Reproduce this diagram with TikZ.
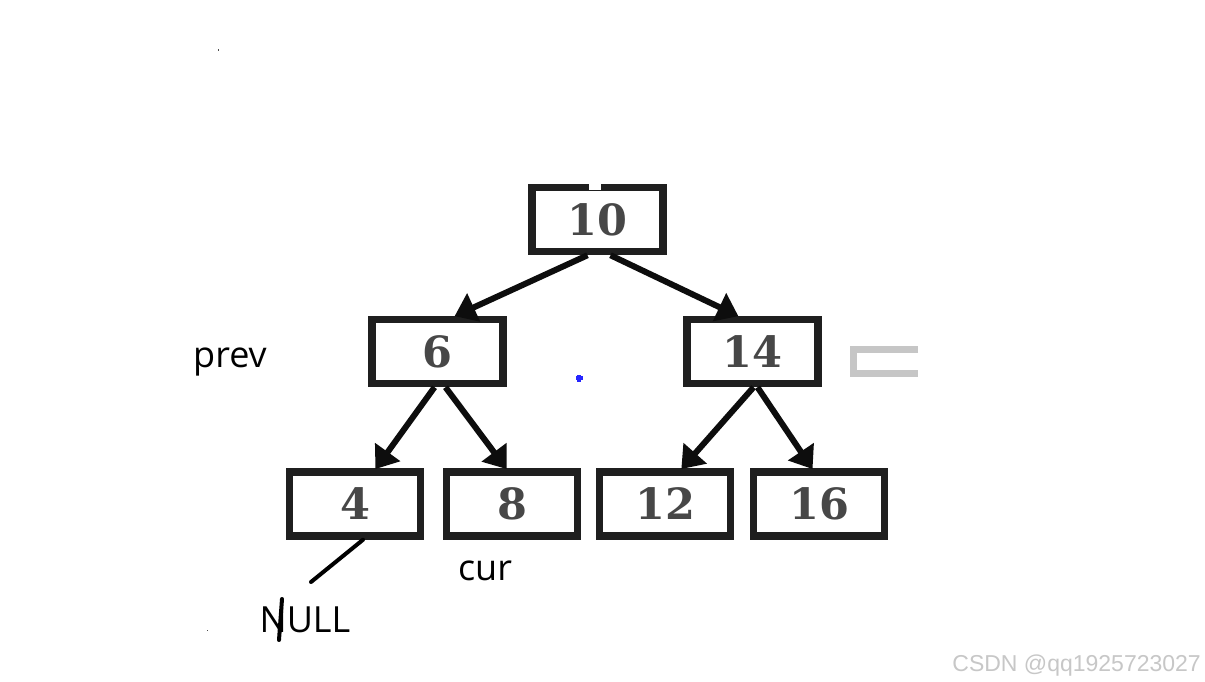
\documentclass[tikz,border=0pt]{standalone}
\usepackage{fontspec}
\setmainfont{Open Sans}
\newfontfamily\digitfont{DejaVu Serif}
\newfontfamily\wmfont{Liberation Sans}
\usetikzlibrary{arrows.meta}
\tikzset{
  treebox/.style={draw=black!88, line width=7.5pt, fill=white, minimum width=131pt, minimum height=64pt, inner sep=0pt,
    font=\digitfont\bfseries\fontsize{43}{43}\selectfont, text=black!72},
  arr/.style={line width=6pt, black!95, -{Triangle[width=30pt,length=21pt]}, shorten >=-1pt},
  lbl/.style={font=\fontsize{36}{36}\selectfont, anchor=base, inner sep=0pt},
  pen/.style={line width=4pt, line cap=round, black}
}
\begin{document}
\begin{tikzpicture}[x=1pt,y=-1pt]
\useasboundingbox (0,0) rectangle (1205,682);
\fill[white] (0,0) rectangle (1205,682);
% nodes
\node[treebox] (n10) at (597.5,219.5) {10};
\node[treebox] (n6) at (437.5,351.5) {6};
\node[treebox] (n14) at (752.5,351.5) {14};
\node[treebox] (n4) at (355,504) {4};
\node[treebox] (n8) at (512,504) {8};
\node[treebox] (n12) at (665,504) {12};
\node[treebox] (n16) at (819,504) {16};
% white notch on the top of the root box
\fill[white] (589,182) rectangle (601,190);
% connectors
\draw[arr] ([xshift=-10pt]n10.south) -- ([xshift=18pt]n6.north);
\draw[arr] ([xshift=13pt]n10.south) -- ([xshift=-15pt]n14.north);
\draw[arr] ([xshift=-3pt]n6.south) -- ([xshift=21pt]n4.north);
\draw[arr] ([xshift=8pt]n6.south) -- ([xshift=-6pt]n8.north);
\draw[arr] ([xshift=1pt]n14.south) -- ([xshift=17pt]n12.north);
\draw[arr] ([xshift=5pt]n14.south) -- ([xshift=-7pt]n16.north);
% labels
\node[lbl] (prev) at (230,367) {prev};
\node[lbl] (cur) at (485,580) {cur};
\node[lbl] (null) at (305,632) {NULL};
% hand-drawn strokes
\coordinate (nullend) at (311,582);
\draw[pen] ([xshift=8pt]n4.south) -- (nullend);
\coordinate (sa) at (282,599);
\coordinate (sb) at (279,640);
\draw[pen] (sa) -- (sb);
% gray partial box on the right
\draw[gray!45, line width=7pt] (918,349) -- (853,349) -- (853,373) -- (918,373);
% small dots
\fill[blue!85] (575.5,376) rectangle (582.5,380);
\fill[blue!85] (577,374.5) rectangle (581,381.5);
\fill[black!70] (217.5,49.5) rectangle (219,51);
\fill[black!70] (206.5,629.5) rectangle (208,631);
% watermark
\node[font=\wmfont\fontsize{23}{23}\selectfont, text=black!22, anchor=base east, inner sep=0pt] (wm) at (1201,671) {CSDN @qq1925723027};
\end{tikzpicture}
\end{document}
